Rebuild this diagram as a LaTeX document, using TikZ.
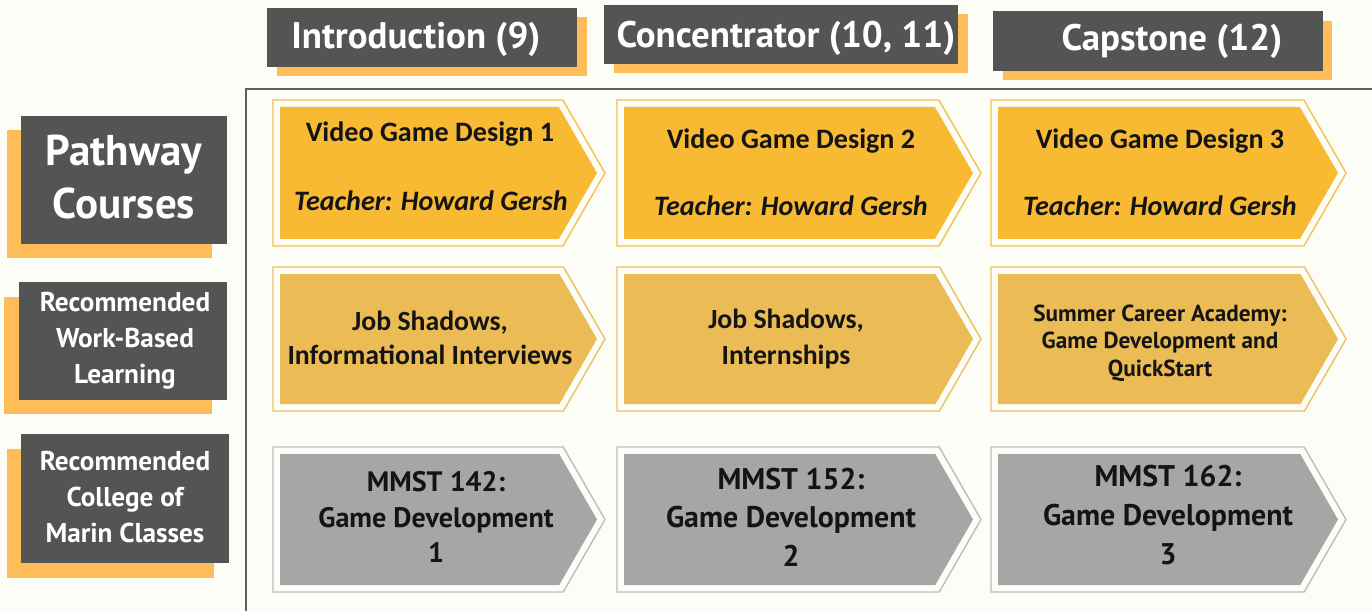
\documentclass[tikz,border=0pt]{standalone}
\usepackage{fontspec}
\setmainfont{Carlito}
\newfontfamily\ptsans{PT Sans}

\definecolor{pagebg}{HTML}{FDFDF7}
\definecolor{darkbox}{HTML}{545454}
\definecolor{shadowor}{HTML}{FEBD59}
\definecolor{frameline}{HTML}{5F5F5F}
\definecolor{goldfill}{HTML}{F8BA33}
\definecolor{goldline}{HTML}{F6C04A}
\definecolor{sandfill}{HTML}{EBBB55}
\definecolor{sandline}{HTML}{EBC063}
\definecolor{grayfill}{HTML}{A6A6A6}
\definecolor{grayline}{HTML}{BDBDBD}

\tikzset{
  header/.style={text=white, font=\ptsans\bfseries\fontsize{21}{24}\selectfont},
  sidelabel/.style={text=white, align=center, font=\ptsans\bfseries\fontsize{15.5}{20.4}\selectfont},
  coursetext/.style={align=center, text=black!92, font=\bfseries\fontsize{16}{20}\selectfont},
  teacher/.style={coursetext, font=\bfseries\itshape\fontsize{16}{20}\selectfont},
  mmst/.style={align=center, text=black!92, font=\ptsans\bfseries\fontsize{17}{22}\selectfont},
}

\begin{document}
\begin{tikzpicture}[x=0.02cm, y=-0.02cm]
  \useasboundingbox (0,0) rectangle (1372,611);
  \fill[pagebg] (0,0) rectangle (1372,611);

  % grade headers
  \fill[shadowor] (277,17) rectangle (587,76);
  \fill[darkbox] (267,8) rectangle (577,67);
  \node[header] (intro) at (416,39) {Introduction (9)};
  \fill[shadowor] (614,14) rectangle (968,73);
  \fill[darkbox] (604,5) rectangle (958,64);
  \node[header] (conc) at (786,38) {Concentrator (10, 11)};
  \fill[shadowor] (1003,21) rectangle (1332,80);
  \fill[darkbox] (993,11) rectangle (1323,71);
  \node[header] (cap) at (1172,41) {Capstone (12)};

  % frame round the grid
  \draw[frameline, line width=1.7pt] (246,620) -- (246,89) -- (1380,89);

  % side labels
  \fill[shadowor] (7,130) rectangle (212,258);
  \fill[darkbox] (21,116) rectangle (227,244);
  \node[sidelabel, font=\ptsans\bfseries\fontsize{24.5}{30.6}\selectfont] (pathway) at (124,177) {Pathway\\Courses};
  \fill[shadowor] (4,297) rectangle (212,414);
  \fill[darkbox] (19,282) rectangle (227,400);
  \node[sidelabel] (workbased) at (125,341) {Recommended\\Work-Based\\Learning};
  \fill[shadowor] (7,449) rectangle (214,578);
  \fill[darkbox] (21,434) rectangle (229,563);
  \node[sidelabel] (marin) at (125,497) {Recommended\\College of\\Marin Classes};

  % chevrons, one row at a time
  \foreach \ya/\yb/\fc/\lc in {100/246/goldfill/goldline, 267/411/sandfill/sandline, 447/592/grayfill/grayline}
    \foreach \xa/\xb in {273/605, 617/981, 991/1346} {
      \pgfmathsetmacro{\h}{(\yb-\ya)/2}
      \draw[\lc, line width=0.8pt] (\xa,\ya) -- ({\xb-0.577*\h},\ya) -- (\xb,\ya+\h)
        -- ({\xb-0.577*\h},\yb) -- (\xa,\yb) -- cycle;
      \fill[\fc] (\xa+7,\ya+7) -- ({\xb-8-0.577*(\h-7)},\ya+7) -- (\xb-8,\ya+\h)
        -- ({\xb-8-0.577*(\h-7)},\yb-7) -- (\xa+7,\yb-7) -- cycle;
    }

  % pathway courses
  \node[coursetext] (vgd1) at (430,134) {Video Game Design 1};
  \node[teacher] (teach1) at (431,201) {Teacher: Howard Gersh};
  \node[coursetext] (vgd2) at (791,141) {Video Game Design 2};
  \node[teacher] (teach2) at (791,206) {Teacher: Howard Gersh};
  \node[coursetext] (vgd3) at (1160,141) {Video Game Design 3};
  \node[teacher] (teach3) at (1160,206) {Teacher: Howard Gersh};

  % work-based learning
  \node[coursetext, font=\bfseries\fontsize{15.8}{19.3}\selectfont] (wbl1) at (430,338) {Job Shadows,\\Informational Interviews};
  \node[coursetext, font=\bfseries\fontsize{15.8}{20}\selectfont] (wbl2) at (786,339) {Job Shadows,\\Internships};
  \node[mmst, font=\ptsans\bfseries\fontsize{13.2}{15.5}\selectfont] (wbl3) at (1160,343) {Summer Career Academy:\\Game Development and\\QuickStart};

  % college classes
  \node[mmst, font=\ptsans\bfseries\fontsize{16}{20}\selectfont] (mmst1) at (436,517) {MMST 142:\\Game Development\\1};
  \node[mmst] (mmst2) at (791,517) {MMST 152:\\Game Development\\2};
  \node[mmst] (mmst3) at (1168,515) {MMST 162:\\Game Development\\3};
\end{tikzpicture}
\end{document}
